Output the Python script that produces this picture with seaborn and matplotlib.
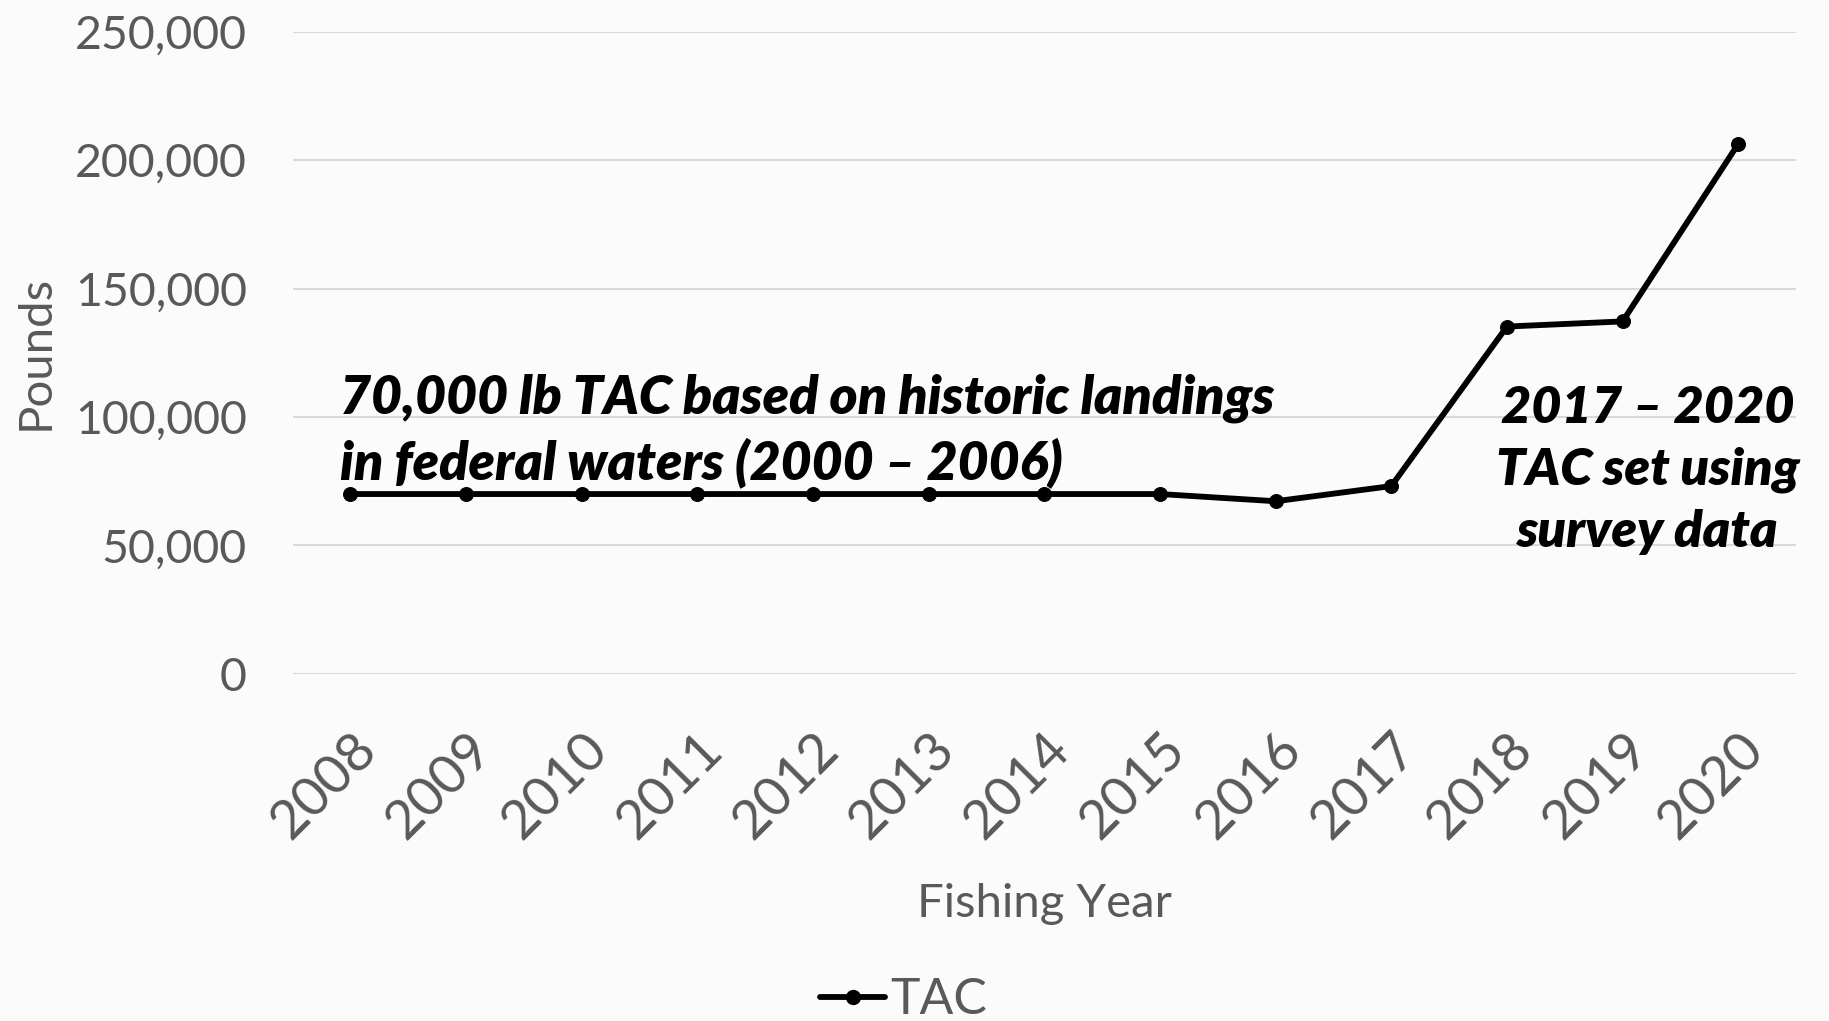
import matplotlib
matplotlib.use("Agg")
import matplotlib.pyplot as plt
import seaborn as sns
import pandas as pd
from matplotlib.ticker import FuncFormatter
from matplotlib.lines import Line2D

years = ["2008", "2009", "2010", "2011", "2012", "2013", "2014",
         "2015", "2016", "2017", "2018", "2019", "2020"]
tac = [70000, 70000, 70000, 70000, 70000, 70000, 70000,
       70000, 67200, 73100, 135200, 137200, 206300]
y_ticks = [0, 50000, 100000, 150000, 200000, 250000]

df = pd.DataFrame({"Fishing Year": years, "TAC": tac})

sns.set_theme(style="white")
plt.rcParams["font.family"] = ["Lato", "DejaVu Sans"]

gray = "#595959"
fig = plt.figure(figsize=(18.29, 10.21), dpi=100)
fig.patch.set_facecolor("#fbfbfb")
ax = fig.add_axes([0.160, 0.340, 0.822, 0.629])
ax.set_facecolor("#fbfbfb")

sns.lineplot(data=df, x="Fishing Year", y="TAC", ax=ax, color="black",
             linewidth=4.2, marker="o", markersize=10, markeredgecolor="black",
             sort=False)

ax.set_xlim(-0.5, len(years) - 0.5)
ax.set_ylim(0, 250000)
ax.set_yticks(y_ticks)
ax.yaxis.set_major_formatter(FuncFormatter(lambda v, p: f"{int(v):,}"))
ax.grid(axis="y", color="#d9d9d9", linewidth=1.5)
ax.grid(axis="x", visible=False)
for s in ax.spines.values():
    s.set_visible(False)
ax.tick_params(axis="y", length=0, colors=gray, labelsize=33.5, pad=33)
ax.tick_params(axis="x", length=0, colors=gray, labelsize=39, pad=36)
plt.setp(ax.get_xticklabels(), rotation=45, ha="right", rotation_mode="anchor")

ax.set_xlabel("Fishing Year", fontsize=34, color=gray)
ax.xaxis.set_label_coords(0.5, -0.326)
ax.set_ylabel("Pounds", fontsize=34, color=gray)
ax.yaxis.set_label_coords((56 - 292) / 1504, 0.5)

ax.text(-0.09, 94500, "70,000 lb TAC based on historic landings\nin federal waters (2000 – 2006)",
        fontsize=38.5, fontweight="heavy", fontstyle="italic", color="black",
        ha="left", va="center", linespacing=1.35)
ax.text(11.22, 79300, "2017 – 2020\nTAC set using\nsurvey data",
        fontsize=37.5, fontweight="heavy", fontstyle="italic", color="black",
        ha="center", va="center", linespacing=1.42)

handle = Line2D([], [], color="black", linewidth=4.2, marker="o", markersize=10)
fig.legend([handle], ["TAC"], loc="center", bbox_to_anchor=(0.494, 1 - 1000 / 1021),
           frameon=False, fontsize=36, labelcolor=gray, handlelength=1.3,
           handletextpad=0.1)

fig.savefig("out.png", dpi=100, facecolor=fig.get_facecolor())
